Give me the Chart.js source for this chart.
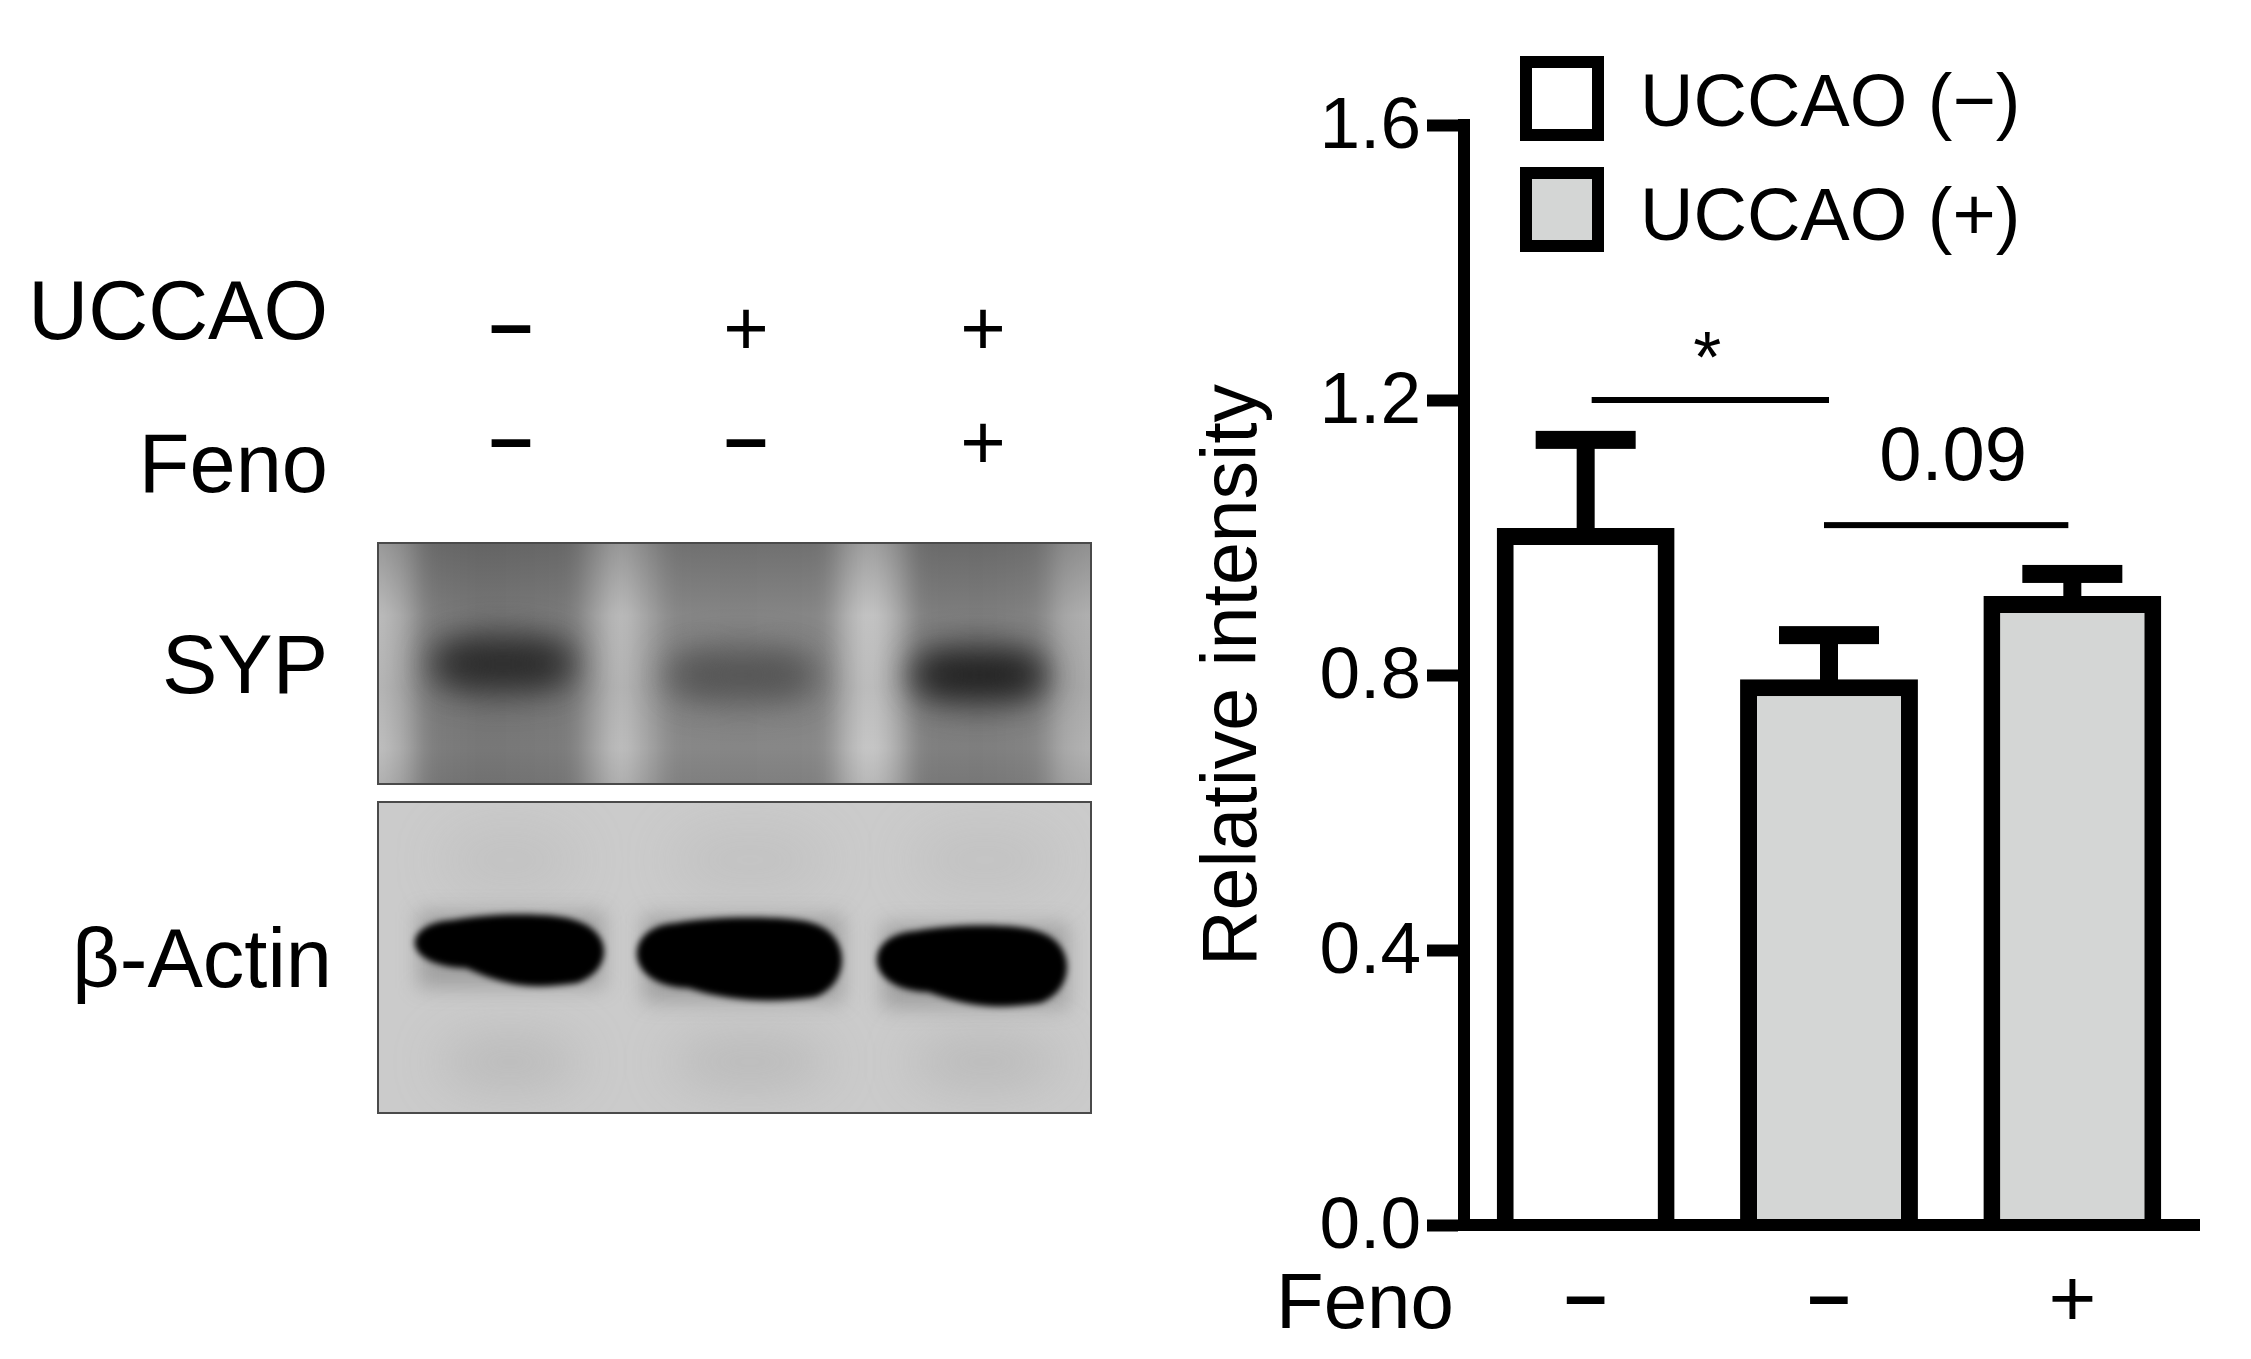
<!DOCTYPE html>
<html>
<head>
<meta charset="utf-8">
<style>
  html, body { margin: 0; padding: 0; background: #fff; }
  #wrap { width: 2251px; height: 1359px; }
</style>
<script src="https://cdn.jsdelivr.net/npm/chart.js@4/dist/chart.umd.min.js"></script>
</head>
<body>
<div id="wrap"><canvas id="chart" width="2251" height="1359"></canvas></div>
<script>
const fenoLabels = ["–", "–", "+"];
const yTicks = [0, 0.4, 0.8, 1.2, 1.6];
const uccaoMinus = [1.014, null, null];
const uccaoPlus = [null, 0.794, 0.915];
const errorTop = [1.142, 0.858, 0.947];
const seriesNames = ["UCCAO (−)", "UCCAO (+)"];
const sigFrom = [0, 1];
const sigTo = [1, 2];
const sigLevel = [1.2, 1.018];
const sigText = ["*", "0.09"];
const blotUccao = ["–", "+", "+"];
const blotFeno = ["–", "–", "+"];
const blotNames = ["SYP", "β-Actin"];
const sypBandGrey = [42, 84, 32];

const FONT = '"Liberation Sans", Arial, sans-serif';
const INK = "#000";
const GREY = "#d4d6d5";

function text(ctx, str, x, y, size, align, weight) {
    ctx.font = (weight ? weight + " " : "") + size + "px " + FONT;
    ctx.fillStyle = INK;
    ctx.textAlign = align || "left";
    ctx.textBaseline = "alphabetic";
    ctx.fillText(str, x, y);
}

function grey(v) {
    return "rgb(" + v + "," + v + "," + v + ")";
}

// 左側的 SYP 膜條
function drawSyp(ctx) {
    const x = 378, y = 543, w = 713, h = 241;
    ctx.save();
    ctx.beginPath();
    ctx.rect(x, y, w, h);
    ctx.clip();

    ctx.filter = "blur(9px)";
    const g = ctx.createLinearGradient(x, 0, x + w, 0);
    const stops = [[0, 196], [0.035, 175], [0.07, 128], [0.15, 120], [0.27, 126], [0.31, 170], [0.34, 198], [0.375, 170],
        [0.415, 138], [0.5, 136], [0.625, 138], [0.66, 185], [0.69, 208], [0.725, 180], [0.76, 130], [0.85, 128],
        [0.925, 134], [0.96, 172], [1, 182]];
    stops.forEach(s => g.addColorStop(s[0], grey(s[1])));
    ctx.fillStyle = g;
    ctx.fillRect(x - 40, y - 40, w + 80, h + 80);

    const v = ctx.createLinearGradient(0, y, 0, y + h);
    v.addColorStop(0, "rgba(40,40,40,0.26)");
    v.addColorStop(0.3, "rgba(40,40,40,0.04)");
    v.addColorStop(0.6, "rgba(40,40,40,0.08)");
    v.addColorStop(0.85, "rgba(40,40,40,0.02)");
    v.addColorStop(1, "rgba(40,40,40,0.10)");
    ctx.filter = "none";
    ctx.fillStyle = v;
    ctx.fillRect(x, y, w, h);

    const bands = [[503, 664, 72, 28], [742, 675, 76, 26], [979, 675, 68, 27]];
    ctx.filter = "blur(17px)";
    bands.forEach((b, i) => {
        ctx.fillStyle = grey(sypBandGrey[i]);
        ctx.beginPath();
        ctx.ellipse(b[0], b[1], b[2], b[3], 0, 0, Math.PI * 2);
        ctx.fill();
        // 條帶內兩端較深
        ctx.globalAlpha = 0.55;
        ctx.beginPath();
        ctx.ellipse(b[0] - b[2] * 0.55, b[1], 24, 16, 0, 0, Math.PI * 2);
        ctx.ellipse(b[0] + b[2] * 0.55, b[1], 24, 16, 0, 0, Math.PI * 2);
        ctx.fill();
        ctx.globalAlpha = 1;
    });
    ctx.filter = "none";
    ctx.restore();
    ctx.strokeStyle = "#4a4a4a";
    ctx.lineWidth = 2;
    ctx.strokeRect(x, y, w, h);
}

// β-Actin 膜條
function drawActin(ctx) {
    const x = 378, y = 802, w = 713, h = 311;
    ctx.save();
    ctx.beginPath();
    ctx.rect(x, y, w, h);
    ctx.clip();
    ctx.fillStyle = "#cbcbcb";
    ctx.fillRect(x, y, w, h);

    ctx.filter = "blur(24px)";
    [[510, 70], [750, 80], [985, 75]].forEach(s => {
        ctx.fillStyle = "rgba(160,160,160,0.38)";
        ctx.beginPath();
        ctx.ellipse(s[0], 1062, s[1], 28, 0, 0, Math.PI * 2);
        ctx.fill();
        ctx.fillStyle = "rgba(170,170,170,0.22)";
        ctx.beginPath();
        ctx.ellipse(s[0], 860, s[1], 38, 0, 0, Math.PI * 2);
        ctx.fill();
    });
    // 條帶周圍的暈
    ctx.filter = "blur(10px)";
    ctx.fillStyle = "rgba(110,110,110,0.45)";
    ctx.fillRect(418, 912, 186, 76);
    ctx.fillRect(643, 916, 200, 86);
    ctx.fillRect(882, 924, 186, 84);

    ctx.filter = "blur(3px)";
    ctx.fillStyle = "#000";
    [
        [420, 605, 915, 986, 12],
        [642, 843, 918, 1000, 6],
        [882, 1068, 926, 1006, 8]
    ].forEach(b => {
        const x0 = b[0], x1 = b[1], t = b[2], bt = b[3], tilt = b[4];
        ctx.beginPath();
        ctx.moveTo(x0 + 34, t + 5);
        ctx.bezierCurveTo(x0 + 70, t - 2, x1 - 50, t - 3, x1 - 28, t + 6);
        ctx.bezierCurveTo(x1 + 8, t + 18, x1 + 8, bt - 16, x1 - 28, bt - 3);
        ctx.bezierCurveTo(x1 - 70, bt + 3, x0 + 90, bt + 2, x0 + 46, bt - tilt - 6);
        ctx.bezierCurveTo(x0 - 20, bt - tilt - 8, x0 - 20, t + 8, x0 + 34, t + 5);
        ctx.closePath();
        ctx.fill();
    });
    ctx.filter = "none";
    ctx.restore();
    ctx.strokeStyle = "#4a4a4a";
    ctx.lineWidth = 2;
    ctx.strokeRect(x, y, w, h);
}

const panelPlugin = {
    id: "panel",
    beforeDraw(chart) {
        const ctx = chart.ctx;
        ctx.save();
        drawSyp(ctx);
        drawActin(ctx);

        text(ctx, "UCCAO", 328, 339, 83, "right");
        text(ctx, "Feno", 328, 492, 83, "right");
        text(ctx, blotNames[0], 328, 693, 83, "right");
        text(ctx, blotNames[1], 332, 987, 83, "right");

        const laneX = [511, 746, 983];
        laneX.forEach((lx, i) => {
            text(ctx, blotUccao[i], lx, blotUccao[i] === "+" ? 355 : 350, 78, "center", blotUccao[i] === "+" ? "" : "bold");
            text(ctx, blotFeno[i], lx, blotFeno[i] === "+" ? 469 : 464, 78, "center", blotFeno[i] === "+" ? "" : "bold");
        });
        ctx.restore();
    },
    afterDatasetsDraw(chart) {
        const ctx = chart.ctx;
        const xs = chart.scales.x, ys = chart.scales.y;
        ctx.save();

        // 誤差線
        ctx.fillStyle = INK;
        errorTop.forEach((top, i) => {
            const cx = xs.getPixelForValue(i);
            const val = uccaoMinus[i] !== null ? uccaoMinus[i] : uccaoPlus[i];
            const py = ys.getPixelForValue(top);
            ctx.fillRect(cx - 9, py, 18, ys.getPixelForValue(val) - py + 2);
            ctx.fillRect(cx - 50, py - 9, 100, 18);
        });

        // 顯著性標記
        sigText.forEach((s, i) => {
            const x0 = xs.getPixelForValue(sigFrom[i]) + (i === 0 ? 6 : -5);
            const x1 = xs.getPixelForValue(sigTo[i]) + (i === 0 ? 0 : -4);
            const py = ys.getPixelForValue(sigLevel[i]);
            ctx.fillStyle = INK;
            ctx.fillRect(x0, py - 3, x1 - x0, 6);
            if (i === 0) text(ctx, s, (x0 + x1) / 2 - 3, py - 18, 72, "center");
            else text(ctx, s, (x0 + x1) / 2 + 7, py - 45, 76, "center");
        });

        // 圖例
        const boxY = [56, 167];
        const textY = [126, 240];
        seriesNames.forEach((name, i) => {
            ctx.fillStyle = chart.data.datasets[i].backgroundColor;
            ctx.fillRect(1520, boxY[i], 84, 85);
            ctx.strokeStyle = INK;
            ctx.lineWidth = 12;
            ctx.strokeRect(1526, boxY[i] + 6, 72, 73);
            text(ctx, name, 1640, textY[i], 74, "left");
        });

        // 座標軸的角落與延伸，x 軸要蓋在長條上面
        ctx.fillStyle = INK;
        ctx.fillRect(chart.chartArea.left - 6, ys.getPixelForValue(1.6) - 6, 12, 12);
        ctx.fillRect(chart.chartArea.left - 6, ys.getPixelForValue(0) - 6, chart.chartArea.width + 12, 12);

        text(ctx, "Feno", 1276, 1328, 78, "left");
        ctx.restore();
    }
};

new Chart(document.getElementById("chart"), {
    type: "bar",
    data: {
        labels: fenoLabels,
        datasets: [
            { label: seriesNames[0], data: uccaoMinus, backgroundColor: "#fff", borderColor: INK, borderWidth: 17, borderSkipped: "bottom" },
            { label: seriesNames[1], data: uccaoPlus, backgroundColor: GREY, borderColor: INK, borderWidth: 17, borderSkipped: "bottom" }
        ]
    },
    options: {
        responsive: false,
        animation: false,
        layout: { padding: { left: 1189, right: 57, top: 125, bottom: 0 } },
        plugins: { legend: { display: false }, tooltip: { enabled: false } },
        datasets: { bar: { grouped: false, barPercentage: 0.731, categoryPercentage: 1 } },
        scales: {
            x: {
                afterFit(scale) { scale.height = 134; },
                grid: { display: false, drawTicks: false },
                border: { display: true, color: INK, width: 12 },
                ticks: {
                    color: INK,
                    padding: 29,
                    font: c => (fenoLabels[c.index] === "+"
                        ? { family: FONT, size: 82 }
                        : { family: FONT, size: 76, weight: "bold" }),
                    maxRotation: 0
                }
            },
            y: {
                min: 0,
                max: 1.6,
                afterFit(scale) { scale.width = 275; },
                afterBuildTicks(scale) { scale.ticks = yTicks.map(v => ({ value: v })); },
                grid: { drawOnChartArea: false, drawTicks: true, tickLength: 37, tickWidth: 12, tickColor: INK },
                border: { display: true, color: INK, width: 12 },
                ticks: {
                    color: INK,
                    padding: 6,
                    labelOffset: 3,
                    font: { family: FONT, size: 73 },
                    callback: v => v.toFixed(1)
                },
                title: {
                    display: true,
                    text: "Relative intensity",
                    color: INK,
                    font: { family: FONT, size: 77 },
                    padding: 0
                }
            }
        }
    },
    plugins: [panelPlugin]
});
</script>
</body>
</html>
